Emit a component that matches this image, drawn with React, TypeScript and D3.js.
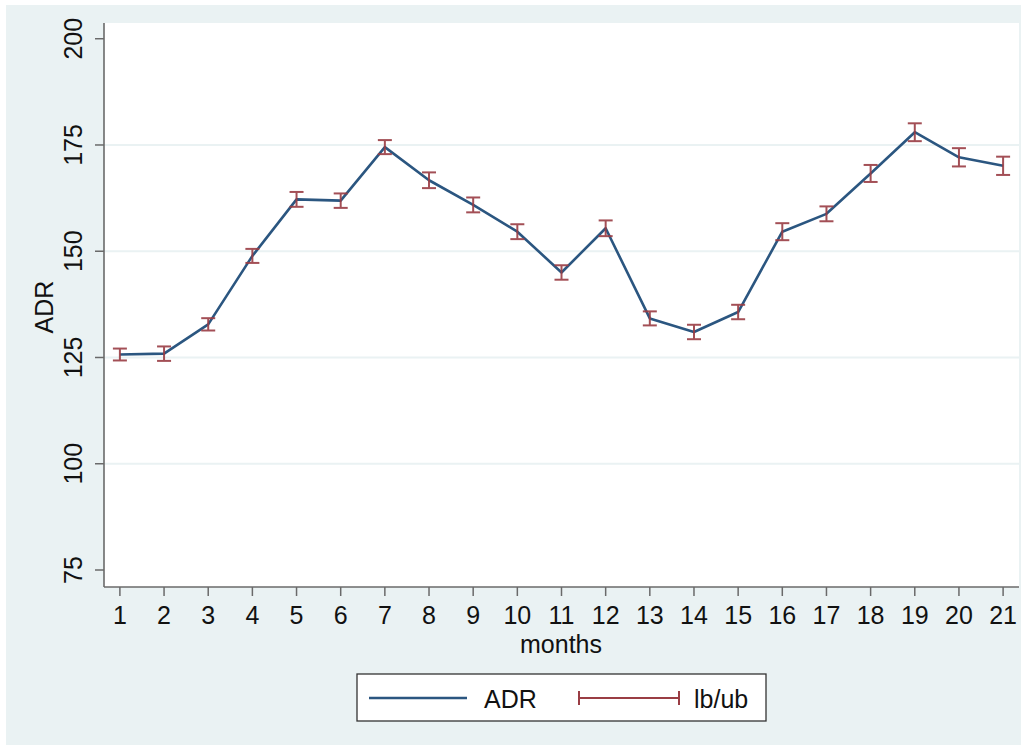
import React from "react";
import * as d3 from "d3";

const months = [1, 2, 3, 4, 5, 6, 7, 8, 9, 10, 11, 12, 13, 14, 15, 16, 17, 18, 19, 20, 21];
const adr = [125.7, 125.9, 132.8, 148.9, 162.2, 161.9, 174.5, 166.7, 160.9, 154.6, 145.0, 155.4, 134.2, 131.0, 135.7, 154.6, 158.8, 168.3, 178.0, 172.1, 170.1];
const halfCI = [1.4, 1.7, 1.45, 1.65, 1.75, 1.7, 1.65, 1.85, 1.75, 1.75, 1.7, 1.85, 1.65, 1.7, 1.7, 2.0, 1.75, 2.0, 2.1, 2.15, 2.15];
const lb = adr.map((v, i) => v - halfCI[i]);
const ub = adr.map((v, i) => v + halfCI[i]);
const yTicks = [75, 100, 125, 150, 175, 200];
const gridTicks = [100, 125, 150, 175];
const xTicks = months;

const W = 1021;
const H = 746;
const plotL = 104, plotR = 1019, plotT = 23, plotB = 587;
const FONT = "'Liberation Sans', Arial, Helvetica, sans-serif";
const BLUE = "#2b5680";
const RED = "#9a3d44";
const BG = "#eaf2f3";

export default function App() {
  const x = d3.scaleLinear().domain([0.64, 21.36]).range([plotL, plotR]);
  const y = d3.scaleLinear().domain([71, 203.7]).range([plotB, plotT]);
  const line = d3
    .line<number>()
    .x((_, i) => x(months[i]))
    .y((d) => y(d));
  const capW = 7;

  return (
    <svg
      width={W}
      height={H}
      style={{ position: "absolute", left: 0, top: 0 }}
      fontFamily={FONT}
    >
      <rect x={0} y={0} width={W} height={H} fill="#ffffff" />
      <rect x={6} y={5} width={W - 6} height={H - 6} fill={BG} />
      <rect x={plotL} y={plotT} width={plotR - plotL} height={plotB - plotT} fill="#ffffff" />
      {gridTicks.map((t) => (
        <line key={"g" + t} x1={plotL} x2={plotR} y1={y(t)} y2={y(t)} stroke={BG} strokeWidth={2} />
      ))}
      {/* y axis */}
      <line x1={plotL} x2={plotL} y1={plotT} y2={plotB} stroke="#6a6a6a" strokeWidth={1.6} />
      {yTicks.map((t) => (
        <g key={"y" + t}>
          <line x1={plotL - 9} x2={plotL} y1={y(t)} y2={y(t)} stroke="#6a6a6a" strokeWidth={1.5} />
          <text
            transform={`translate(${plotL - 22},${y(t)}) rotate(-90)`}
            textAnchor="middle"
            fontSize={25}
            fill="#111"
          >
            {t}
          </text>
        </g>
      ))}
      {/* x axis */}
      <line x1={plotL} x2={plotR} y1={plotB} y2={plotB} stroke="#6a6a6a" strokeWidth={1.6} />
      {xTicks.map((t) => (
        <g key={"x" + t}>
          <line x1={x(t)} x2={x(t)} y1={plotB} y2={plotB + 9} stroke="#6a6a6a" strokeWidth={1.5} />
          <text x={x(t)} y={624} textAnchor="middle" fontSize={25} fill="#111">
            {t}
          </text>
        </g>
      ))}
      <text
        transform={`translate(53,307) rotate(-90)`}
        textAnchor="middle"
        fontSize={25}
        fill="#111"
      >
        ADR
      </text>
      <text x={561} y={653} textAnchor="middle" fontSize={25} fill="#111">
        months
      </text>
      {/* series line */}
      <path d={line(adr) || ""} fill="none" stroke={BLUE} strokeWidth={2.6} strokeLinejoin="round" />
      {/* error bars */}
      {months.map((m, i) => {
        const cx = x(m);
        return (
          <g key={"e" + m} stroke={RED} strokeWidth={2} opacity={0.9}>
            <line x1={cx} x2={cx} y1={y(lb[i])} y2={y(ub[i])} />
            <line x1={cx - capW} x2={cx + capW} y1={y(lb[i])} y2={y(lb[i])} />
            <line x1={cx - capW} x2={cx + capW} y1={y(ub[i])} y2={y(ub[i])} />
          </g>
        );
      })}
      {/* legend */}
      <rect x={357} y={674} width={409} height={47} fill="#ffffff" stroke="#333" strokeWidth={1.3} />
      <line x1={369} x2={467} y1={698} y2={698} stroke={BLUE} strokeWidth={2.6} />
      <text x={484} y={708} fontSize={25} fill="#111">
        ADR
      </text>
      <g stroke={RED} strokeWidth={2}>
        <line x1={579} x2={679} y1={698} y2={698} />
        <line x1={579} x2={579} y1={691} y2={705} />
        <line x1={679} x2={679} y1={691} y2={705} />
      </g>
      <text x={694} y={708} fontSize={25} fill="#111">
        lb/ub
      </text>
    </svg>
  );
}
